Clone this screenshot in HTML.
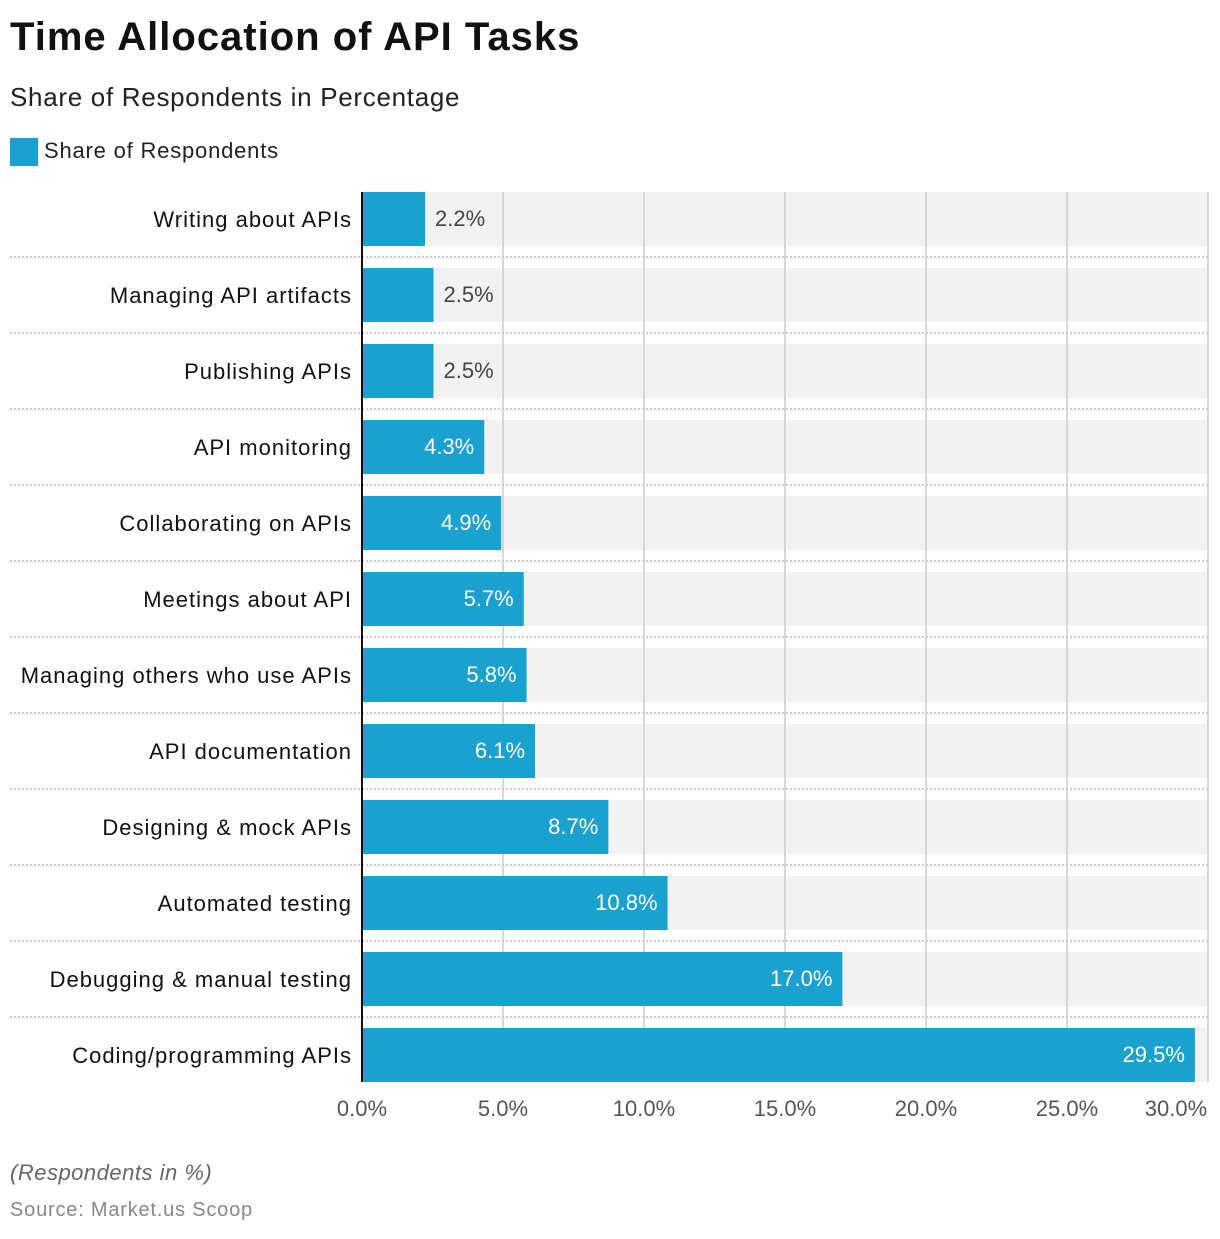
<!DOCTYPE html>
<html><head><meta charset="utf-8"><style>
body{margin:0;background:#fff;width:1220px;height:1234px;overflow:hidden;font-family:"Liberation Sans",sans-serif}
</style></head><body>
<svg width="1220" height="1234" xmlns="http://www.w3.org/2000/svg" font-family="Liberation Sans, sans-serif">
<text x="10" y="50" font-size="40" font-weight="bold" fill="#111" letter-spacing="1">Time Allocation of API Tasks</text>
<text x="10" y="106" font-size="26" fill="#222" letter-spacing="0.7">Share of Respondents in Percentage</text>
<rect x="10" y="138" width="28" height="28" fill="#1aa1cf"/>
<text x="44" y="158" font-size="22" fill="#222" letter-spacing="0.8">Share of Respondents</text>
<g id="rows"></g>
<g font-size="22" fill="#555" text-anchor="middle">
<text x="362" y="1116">0.0%</text><text x="503" y="1116">5.0%</text><text x="644" y="1116">10.0%</text>
<text x="785" y="1116">15.0%</text><text x="926" y="1116">20.0%</text><text x="1067" y="1116">25.0%</text><text x="1176" y="1116">30.0%</text>
</g>
<text x="10" y="1180" font-size="22" font-style="italic" fill="#666" letter-spacing="0.5">(Respondents in %)</text>
<text x="10" y="1216" font-size="20" fill="#888" letter-spacing="0.8">Source: Market.us Scoop</text>
</svg>
<script>
var d=[["Writing about APIs",2.2],["Managing API artifacts",2.5],["Publishing APIs",2.5],["API monitoring",4.3],["Collaborating on APIs",4.9],["Meetings about API",5.7],["Managing others who use APIs",5.8],["API documentation",6.1],["Designing & mock APIs",8.7],["Automated testing",10.8],["Debugging & manual testing",17.0],["Coding/programming APIs",29.5]];
var s="";
for(var i=0;i<d.length;i++){var y=192+76*i;s+='<rect x="362" y="'+y+'" width="846" height="54" fill="#f2f2f2"/>';
if(i<11)s+='<line x1="10" x2="1208" y1="'+(257+76*i)+'" y2="'+(257+76*i)+'" stroke="#bbb" stroke-width="1.5" stroke-dasharray="2,2"/>';}
for(var k=1;k<=6;k++){var x=362+141*k;s+='<line x1="'+x+'" x2="'+x+'" y1="192" y2="1082" stroke="#ccc" stroke-width="1.5"/>';}
for(var i=0;i<d.length;i++){var y=192+76*i,w=d[i][1]*28.2,e=363+w;
s+='<rect x="363" y="'+y+'" width="'+w+'" height="54" fill="#1aa1cf"/>';
s+='<text x="352" y="'+(y+35)+'" font-size="22" fill="#111" text-anchor="end" letter-spacing="1">'+d[i][0].replace("&","&amp;")+'</text>';
var v=d[i][1].toFixed(1)+"%";
if(d[i][1]<=2.5)s+='<text x="'+(e+10)+'" y="'+(y+34)+'" font-size="22" fill="#444">'+v+'</text>';
else s+='<text x="'+(e-10)+'" y="'+(y+34)+'" font-size="22" fill="#fff" text-anchor="end">'+v+'</text>';}
s+='<line x1="362" x2="362" y1="192" y2="1082" stroke="#111" stroke-width="2"/>';
document.getElementById("rows").innerHTML=s;
</script>
</body></html>
